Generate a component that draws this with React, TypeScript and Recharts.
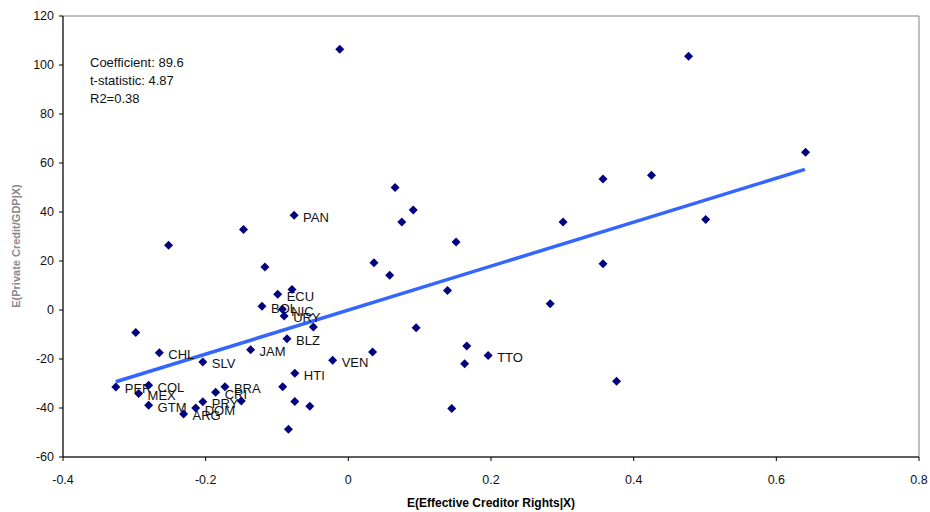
import React from 'react';
import { ScatterChart, Scatter, XAxis, YAxis, ReferenceArea, Label } from 'recharts';

// Labeled countries
const labeledNames = ['PER', 'MEX', 'COL', 'GTM', 'ARG', 'DOM', 'PRY', 'CRI', 'BRA', 'SLV', 'CHL', 'JAM', 'BOL', 'ECU', 'NIC', 'URY', 'BLZ', 'VEN', 'HTI', 'PAN', 'TTO'];
const labeledX = [-0.326, -0.294, -0.28, -0.28, -0.231, -0.214, -0.204, -0.186, -0.173, -0.204, -0.265, -0.137, -0.121, -0.099, -0.0925, -0.09, -0.086, -0.022, -0.075, -0.076, 0.196];
const labeledY = [-31.4, -34.1, -30.7, -38.9, -42.4, -40.0, -37.4, -33.6, -31.3, -21.2, -17.4, -16.2, 1.5, 6.4, 0.3, -2.4, -11.7, -20.5, -25.8, 38.7, -18.6];

// Unlabeled countries
const otherX = [-0.15, -0.092, -0.084, -0.298, -0.252, -0.147, -0.117, -0.079, -0.049, 0.034, 0.0655, 0.091, 0.075, 0.151, 0.036, 0.058, 0.139, 0.095, 0.166, 0.163, 0.145, 0.477, 0.357, 0.425, 0.641, 0.301, 0.501, 0.357, 0.283, 0.376, -0.012, -0.075, -0.054];
const otherY = [-37.1, -31.3, -48.7, -9.2, 26.4, 32.9, 17.6, 8.4, -6.9, -17.1, 50.0, 40.8, 35.9, 27.8, 19.3, 14.2, 8.0, -7.2, -14.7, -21.9, -40.2, 103.6, 53.5, 55.0, 64.4, 35.9, 36.9, 18.9, 2.6, -29.1, 106.4, -37.3, -39.3];

// Fitted line endpoints
const trendX = [-0.326, 0.64];
const trendY = [-29.3, 57.4];

const xTicks = [-0.4, -0.2, 0, 0.2, 0.4, 0.6, 0.8];
const yTicks = [-60, -40, -20, 0, 20, 40, 60, 80, 100, 120];

const annotations = ['Coefficient: 89.6', 't-statistic: 4.87', 'R2=0.38'];
const xTitle = 'E(Effective Creditor Rights|X)';
const yTitle = 'E(Private Credit/GDP|X)';

const points = [
  ...labeledNames.map((n, i) => ({ name: n, x: labeledX[i], y: labeledY[i] })),
  ...otherX.map((x, i) => ({ name: '', x, y: otherY[i] })),
];
const trend = trendX.map((x, i) => ({ x, y: trendY[i] }));

const FONT = '"Liberation Sans", Arial, sans-serif';

const Diamond = (props: any) => {
  const { cx, cy, payload } = props;
  if (cx == null || cy == null) return <g />;
  const r = 4.5;
  return (
    <g>
      <polygon points={`${cx},${cy - r} ${cx + r},${cy} ${cx},${cy + r} ${cx - r},${cy}`} fill="#000080" />
      {payload && payload.name ? (
        <text x={cx + 9} y={cy + 2} dominantBaseline="central" fontSize={13} fill="#111" fontFamily={FONT}>
          {payload.name}
        </text>
      ) : null}
    </g>
  );
};

export default function App() {
  return (
    <div style={{ position: 'absolute', left: 0, top: 0, width: 930, height: 512, background: '#fff' }}>
      <ScatterChart width={930} height={512} margin={{ top: 16, right: 11, left: 0, bottom: 0 }} style={{ fontFamily: FONT }}>
        <ReferenceArea x1={-0.4} x2={0.8} y1={-60} y2={120} fill="none" stroke="#808080" strokeWidth={1} ifOverflow="visible" />
        <XAxis
          type="number"
          dataKey="x"
          domain={[-0.4, 0.8]}
          ticks={xTicks}
          tickFormatter={(v: number) => String(v)}
          allowDataOverflow
          stroke="#000"
          tickSize={4}
          tickMargin={14}
          height={55}
          tick={{ fill: '#111', fontSize: 12.5 }}
        >
          <Label value={xTitle} position="insideBottom" offset={5} style={{ fontWeight: 'bold', fontSize: 12, fill: '#000' }} />
        </XAxis>
        <YAxis
          type="number"
          dataKey="y"
          domain={[-60, 120]}
          ticks={yTicks}
          allowDataOverflow
          stroke="#000"
          tickSize={4}
          tickMargin={5}
          width={63}
          tick={{ fill: '#111', fontSize: 12.5 }}
        >
          <Label
            content={() => (
              <text
                x={16}
                y={246}
                transform="rotate(-90 16 246)"
                textAnchor="middle"
                dominantBaseline="central"
                fontSize={11}
                fontWeight="bold"
                fill="#888"
                fontFamily={FONT}
              >
                {yTitle}
              </text>
            )}
          />
        </YAxis>
        <Scatter data={trend} line={{ stroke: '#3366FF', strokeWidth: 3.5 }} shape={() => <g />} isAnimationActive={false} />
        <Scatter data={points} shape={Diamond} isAnimationActive={false} />
      </ScatterChart>
      <div
        style={{
          position: 'absolute',
          left: 90,
          top: 54,
          fontFamily: FONT,
          fontSize: 13,
          lineHeight: '18px',
          color: '#111',
          whiteSpace: 'pre',
        }}
      >
        {annotations.map((a) => (
          <div key={a}>{a}</div>
        ))}
      </div>
    </div>
  );
}
